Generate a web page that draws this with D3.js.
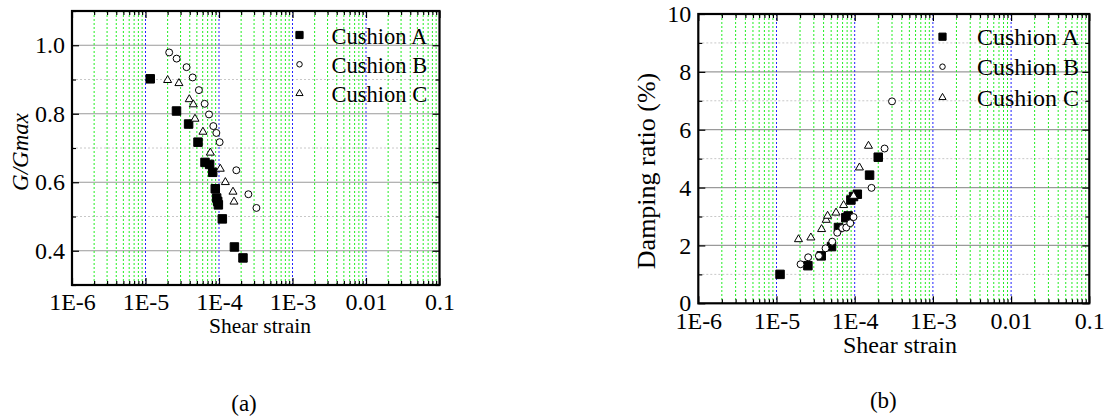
<!DOCTYPE html>
<html><head><meta charset="utf-8">
<script src="https://cdn.jsdelivr.net/npm/d3@7"></script>
<style>
body{margin:0;background:#fff;}
svg{display:block;}
svg text{font-family:"Liberation Serif","Times New Roman",Times,"DejaVu Serif",serif !important;}
</style></head>
<body><svg id="c" width="1106" height="419"></svg>
<script>
// ---------- data ----------
const seriesNames = ["Cushion A", "Cushion B", "Cushion C"];
const xTickValues = [1e-6, 1e-5, 1e-4, 1e-3, 1e-2, 1e-1];
const xTickLabels = ["1E-6", "1E-5", "1E-4", "1E-3", "0.01", "0.1"];

// Panel (a): G/Gmax vs shear strain
const aStrainA = [1.16e-5, 2.64e-5, 3.86e-5, 5.18e-5, 6.45e-5, 7.46e-5, 8.2e-5, 8.9e-5, 9.29e-5, 9.6e-5, 9.8e-5, 1.11e-4, 1.62e-4, 2.12e-4];
const aRatioA  = [0.902, 0.808, 0.770, 0.717, 0.658, 0.652, 0.629, 0.581, 0.554, 0.544, 0.534, 0.493, 0.411, 0.379];
const aStrainB = [2.10e-5, 2.65e-5, 3.62e-5, 4.38e-5, 5.33e-5, 6.38e-5, 7.31e-5, 8.37e-5, 9.2e-5, 1.02e-4, 1.72e-4, 2.51e-4, 3.23e-4];
const aRatioB  = [0.979, 0.961, 0.936, 0.906, 0.869, 0.829, 0.798, 0.764, 0.744, 0.717, 0.635, 0.565, 0.525];
const aStrainC = [2.0e-5, 2.85e-5, 3.94e-5, 4.47e-5, 4.71e-5, 6.05e-5, 7.62e-5, 1.04e-4, 1.22e-4, 1.55e-4, 1.60e-4];
const aRatioC  = [0.898, 0.889, 0.842, 0.827, 0.785, 0.747, 0.686, 0.639, 0.600, 0.572, 0.543];
const aYTicks = [0.4, 0.6, 0.8, 1.0];
const aYMinor = [0.3, 0.5, 0.7, 0.9, 1.1];

// Panel (b): Damping ratio vs shear strain
const bStrainA = [1.11e-5, 2.52e-5, 3.73e-5, 5.05e-5, 6.2e-5, 7.7e-5, 8.26e-5, 8.94e-5, 9.66e-5, 1.08e-4, 1.55e-4, 2.0e-4];
const bDampA   = [1.00, 1.30, 1.64, 1.96, 2.62, 2.96, 3.02, 3.57, 3.69, 3.77, 4.43, 5.05];
const bStrainB = [2.03e-5, 2.54e-5, 3.48e-5, 4.24e-5, 5.16e-5, 5.98e-5, 6.93e-5, 7.8e-5, 8.78e-5, 9.66e-5, 1.64e-4, 2.41e-4, 3.0e-4];
const bDampB   = [1.35, 1.59, 1.64, 1.90, 2.13, 2.44, 2.60, 2.62, 2.77, 2.98, 3.99, 5.35, 6.98];
const bStrainC = [1.91e-5, 2.75e-5, 3.77e-5, 4.32e-5, 4.5e-5, 5.77e-5, 7.21e-5, 9.66e-5, 1.15e-4, 1.50e-4];
const bDampC   = [2.21, 2.27, 2.56, 2.88, 3.02, 3.13, 3.39, 3.71, 4.69, 5.44];
const bYTicks = [0, 2, 4, 6, 8, 10];
const bYMinor = [1, 3, 5, 7, 9];

// ---------- drawing ----------
const FONT = "Liberation Serif, Times New Roman, Times, DejaVu Serif, serif";
const svg = d3.select("#c");
const shapes = [d3.symbolSquare, d3.symbolCircle, d3.symbolTriangle];
const fills = ["#000", "#fff", "#fff"];
const sizes = [72, 38, 28];
const legSizes = [52, 24, 22];

function panel(cfg) {
  const {L, R, T, B, yDomain, yTicks, yMinor, yFmt, series, yLabel, yLabelItalic, yLabelX, yLabelY, yLabelSize,
         tickSize, xPad, xLabelX, xLabelY, xLabelSize, leg, caption} = cfg;
  const x = d3.scaleLog().domain([1e-6, 0.1]).range([L, R]);
  const y = d3.scaleLinear().domain(yDomain).range([B, T]);
  const g = svg.append("g").attr("font-family", FONT);
  const allX = x.ticks();
  const minorX = allX.filter(v => !xTickValues.some(t => Math.abs(v / t - 1) < 1e-6));
  const innerMajorX = xTickValues.filter(v => v > 1.5e-6 && v < 0.09);

  // horizontal grid
  g.selectAll(".hmin").data(yMinor.filter(v => v > yDomain[0] && v < yDomain[1])).join("line")
    .attr("x1", L).attr("x2", R).attr("y1", d => y(d)).attr("y2", d => y(d))
    .attr("stroke", "#c8c8c8").attr("stroke-width", 1).attr("stroke-dasharray", "2,2");
  g.selectAll(".hmaj").data(yTicks.filter(v => v > yDomain[0] && v < yDomain[1])).join("line")
    .attr("x1", L).attr("x2", R).attr("y1", d => y(d)).attr("y2", d => y(d))
    .attr("stroke", "#9a9a9a").attr("stroke-width", 1.2);
  // vertical grid
  g.selectAll(".vmin").data(minorX).join("line")
    .attr("x1", d => x(d)).attr("x2", d => x(d)).attr("y1", T).attr("y2", B)
    .attr("stroke", "#22ee22").attr("stroke-width", 1).attr("stroke-dasharray", "2,2");
  g.selectAll(".vmaj").data(innerMajorX).join("line")
    .attr("x1", d => x(d)).attr("x2", d => x(d)).attr("y1", T).attr("y2", B)
    .attr("stroke", "#2222ff").attr("stroke-width", 1).attr("stroke-dasharray", "2,2");

  // axes (ticks inward)
  const fmtX = d => xTickLabels[xTickValues.findIndex(t => Math.abs(d / t - 1) < 1e-6)];
  const bot = g.append("g").attr("transform", `translate(0,${B})`)
    .call(d3.axisBottom(x).tickValues(xTickValues).tickFormat(fmtX).tickSize(-7).tickPadding(xPad));
  g.append("g").attr("transform", `translate(0,${B})`)
    .call(d3.axisBottom(x).tickValues(minorX).tickFormat("").tickSize(-4));
  g.append("g").attr("transform", `translate(0,${T})`)
    .call(d3.axisTop(x).tickValues(xTickValues).tickFormat("").tickSize(-7));
  g.append("g").attr("transform", `translate(0,${T})`)
    .call(d3.axisTop(x).tickValues(minorX).tickFormat("").tickSize(-4));
  const left = g.append("g").attr("transform", `translate(${L},0)`)
    .call(d3.axisLeft(y).tickValues(yTicks).tickFormat(yFmt).tickSize(-7).tickPadding(7));
  g.append("g").attr("transform", `translate(${L},0)`)
    .call(d3.axisLeft(y).tickValues(yMinor).tickFormat("").tickSize(-4));
  g.append("g").attr("transform", `translate(${R},0)`)
    .call(d3.axisRight(y).tickValues(yTicks).tickFormat("").tickSize(-7));
  g.append("g").attr("transform", `translate(${R},0)`)
    .call(d3.axisRight(y).tickValues(yMinor).tickFormat("").tickSize(-4));
  g.selectAll("g").attr("font-family", FONT);
  bot.selectAll("text").attr("font-size", tickSize).attr("fill", "#000");
  left.selectAll("text").attr("font-size", tickSize).attr("fill", "#000");
  g.selectAll(".domain").remove();
  g.selectAll(".tick line").attr("stroke", "#000").attr("stroke-width", 1.2);
  g.append("rect").attr("x", L).attr("y", T).attr("width", R - L).attr("height", B - T)
    .attr("fill", "none").attr("stroke", "#000").attr("stroke-width", 2.2);

  // points
  series.forEach((s, i) => {
    g.selectAll(null).data(s.xs.map((v, k) => [v, s.ys[k]])).join("path")
      .attr("transform", d => `translate(${x(d[0])},${y(d[1])})`)
      .attr("d", d3.symbol().type(shapes[i]).size(sizes[i]))
      .attr("fill", fills[i]).attr("stroke", "#000").attr("stroke-width", 1);
  });

  // legend
  seriesNames.forEach((n, i) => {
    g.append("path").attr("transform", `translate(${leg.mx},${leg.my[i]})`)
      .attr("d", d3.symbol().type(shapes[i]).size(legSizes[i]))
      .attr("fill", fills[i]).attr("stroke", "#000").attr("stroke-width", 1);
    g.append("text").attr("x", leg.tx).attr("y", leg.ty[i]).attr("font-size", leg.size)
      .attr("fill", "#000").text(n);
  });

  // labels
  g.append("text").attr("transform", `translate(${yLabelX},${yLabelY}) rotate(-90)`)
    .attr("text-anchor", "middle").attr("font-size", yLabelSize)
    .attr("font-style", yLabelItalic ? "italic" : "normal").attr("fill", "#000").text(yLabel);
  g.append("text").attr("x", xLabelX).attr("y", xLabelY).attr("text-anchor", "middle")
    .attr("font-size", xLabelSize).attr("fill", "#000").text("Shear strain");
  g.append("text").attr("x", caption.x).attr("y", caption.y).attr("text-anchor", "middle")
    .attr("font-size", 23).attr("fill", "#000").text(caption.t);
}

panel({
  L: 72, R: 439.5, T: 11, B: 285, yDomain: [0.3, 1.1], yTicks: aYTicks, yMinor: aYMinor,
  yFmt: d3.format(".1f"),
  series: [{xs: aStrainA, ys: aRatioA}, {xs: aStrainB, ys: aRatioB}, {xs: aStrainC, ys: aRatioC}],
  yLabel: "G/Gmax", yLabelItalic: true, yLabelX: 28, yLabelY: 152, yLabelSize: 23,
  tickSize: 24, xPad: 8, xLabelX: 260, xLabelY: 333, xLabelSize: 21.5,
  leg: {mx: 299.5, my: [35, 64.3, 93.5], tx: 331.5, ty: [44, 72.7, 101.5], size: 22.5},
  caption: {x: 244, y: 411, t: "(a)"}
});

panel({
  L: 698.3, R: 1089.3, T: 14, B: 303.3, yDomain: [0, 10], yTicks: bYTicks, yMinor: bYMinor,
  yFmt: d3.format("d"),
  series: [{xs: bStrainA, ys: bDampA}, {xs: bStrainB, ys: bDampB}, {xs: bStrainC, ys: bDampC}],
  yLabel: "Damping ratio (%)", yLabelItalic: false, yLabelX: 655, yLabelY: 171, yLabelSize: 26,
  tickSize: 24, xPad: 9, xLabelX: 900, xLabelY: 353, xLabelSize: 24,
  leg: {mx: 942.5, my: [36.7, 66.7, 97.5], tx: 977, ty: [45, 75, 105.5], size: 24},
  caption: {x: 883.3, y: 407.5, t: "(b)"}
});
</script></body></html>
